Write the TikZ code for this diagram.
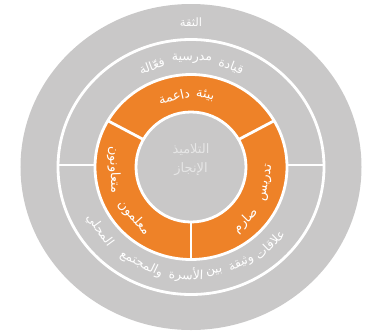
\documentclass[tikz,border=0pt]{standalone}
\usepackage{fontspec}
\newfontfamily\arabicfont[Script=Arabic]{DejaVu Sans}
\TeXXeTstate=1
\definecolor{ringgrey}{HTML}{C9C8C8}
\definecolor{ringorange}{HTML}{EE8228}
\definecolor{centretext}{HTML}{E6E6E6}
\newcommand{\artext}[1]{\arabicfont\beginR #1\endR}
\tikzset{
  sep/.style={draw=white, line width=2.8pt},
  trustword/.style={text=white, inner sep=0pt, font=\arabicfont\fontsize{11.5}{13}\selectfont},
  greyword/.style={text=white, inner sep=0pt, font=\arabicfont\fontsize{12.5}{14}\selectfont},
  orangeword/.style={text=white, inner sep=0pt, font=\arabicfont\fontsize{13}{15}\selectfont},
  centreword/.style={text=centretext, inner sep=0pt, font=\arabicfont\fontsize{13}{15}\selectfont}
}
\begin{document}
\begin{tikzpicture}[x=1pt,y=1pt]
\useasboundingbox (-191,-166) rectangle (175,167);
% outer disc
\fill[ringgrey] (0,0) ellipse [x radius=170.5, y radius=163];
% ring line between outer and middle rings
\draw[sep] (0,0) ellipse [x radius=133, y radius=127.5];
% dividers of the middle grey ring
\draw[sep] (96,2) -- (133,2);
\draw[sep] (-96,2) -- (-133,2);
% orange ring
\fill[ringorange, even odd rule] (0,0) ellipse [x radius=96, y radius=92.5] (0,0) circle [radius=55];
\draw[sep] (0,0) ellipse [x radius=96, y radius=92.5];
\draw[sep] (0,0) circle [radius=55];
\foreach \a in {30,150,270} {
  \draw[sep] ({55*cos(\a)},{55*sin(\a)}) -- ({96*cos(\a)},{92.5*sin(\a)});
}
% outer ring label
\node[trustword] (trust) at (0,145) {\artext{الثقة}};
% top label of middle ring
\foreach \a/\w/\n in {69/قيادة/ta, 89.5/مدرسية/tb, 110.5/فعّالة/tc} {
  \node[greyword, rotate=\a-90] (\n) at ({112*cos(\a)},{108*sin(\a)}) {\artext{\w}};
}
% bottom label of middle ring
\foreach \a/\w/\n in {-46/علاقات/ba, -63.5/وثيقة/bb, -78/بين/bc, -92.5/الأسرة/bd, -116/والمجتمع/be, -144/المحلي/bf} {
  \node[greyword, rotate=\a+90] (\n) at ({113*cos(\a)},{108*sin(\a)}) {\artext{\w}};
}
% orange ring labels
\foreach \a/\w/\n in {79/بيئة/oa, 103/داعمة/ob} {
  \node[orangeword, rotate=\a-90] (\n) at ({75*cos(\a)},{73*sin(\a)}) {\artext{\w}};
}
\foreach \a/\w/\n in {222/معلمون/oc, 182/متعاونون/od, -12/تدريس/oe, -45/صارم/of} {
  \node[orangeword, rotate=\a+90] (\n) at ({77*cos(\a)},{76*sin(\a)}) {\artext{\w}};
}
% centre labels
\node[centreword] (pupils) at (0,17) {\artext{التلاميذ}};
\node[centreword] (achieve) at (0,-2) {\artext{الإنجاز}};
\end{tikzpicture}
\end{document}
